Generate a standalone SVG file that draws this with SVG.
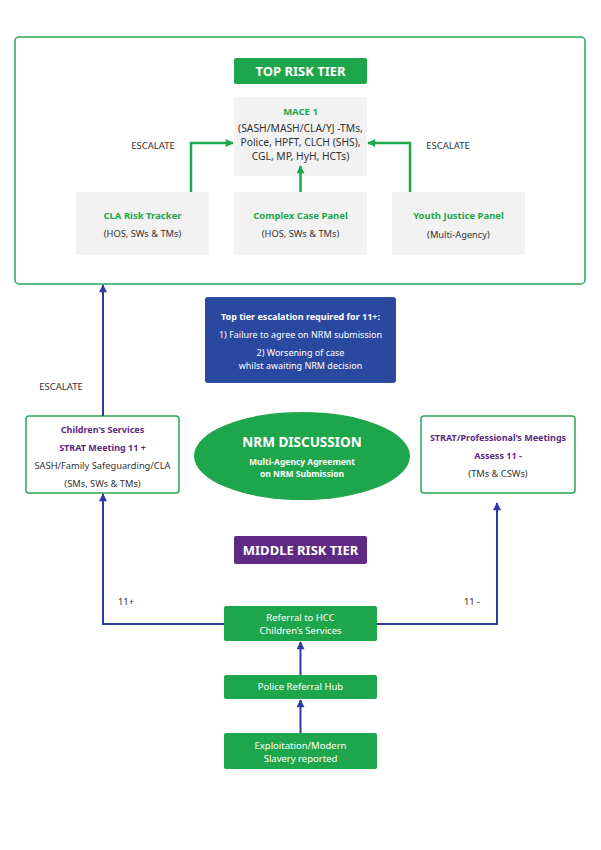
<svg xmlns="http://www.w3.org/2000/svg" width="601" height="850" viewBox="0 0 601 850">
<defs>
<marker id="ag" viewBox="0 0 10 10" refX="9" refY="5" markerWidth="10" markerHeight="8" orient="auto" markerUnits="userSpaceOnUse"><path d="M0,0 L10,5 L0,10 z" fill="#1ea64c"/></marker>
<marker id="ab" viewBox="0 0 10 10" refX="9" refY="5" markerWidth="10" markerHeight="8" orient="auto" markerUnits="userSpaceOnUse"><path d="M0,0 L10,5 L0,10 z" fill="#2b3c9c"/></marker>
<style>
text{font-family:"Noto Sans","Open Sans",sans-serif;text-anchor:middle;}
.t{font-size:9.3px;fill:#333;}
.g{font-size:9.5px;fill:#1ea64c;font-weight:bold;}
.p{font-size:9px;fill:#5a2a82;font-weight:bold;}
.w{font-size:9px;fill:#fff;}
.wb{font-weight:bold;}
.grey{fill:#f2f2f2;}
.green{fill:#1ea64c;}
.node{fill:#fff;stroke:#2aa757;stroke-width:1.5;}
.gl{stroke:#1ea64c;stroke-width:2.5;fill:none;}
.bl{stroke:#2b3c9c;stroke-width:2;fill:none;}
</style>
</defs>
<rect width="601" height="850" fill="#fff"/>
<g id="top-tier">
<rect x="15" y="37" width="570" height="247" rx="4" fill="#fff" stroke="#2aa757" stroke-width="1.5"/>
<rect x="234" y="58" width="133" height="26" rx="2" class="green"/>
<text x="300.5" y="76" class="w wb" style="font-size:13px">TOP RISK TIER</text>
</g>
<g id="mace">
<rect x="234" y="97" width="133" height="79" rx="2" class="grey"/>
<text x="300.5" y="115" class="g">MACE 1</text>
<text x="300.5" y="132" class="t" style="font-size:10.3px">(SASH/MASH/CLA/YJ -TMs,</text>
<text x="300.5" y="146" class="t" style="font-size:10.3px">Police, HPFT, CLCH (SHS),</text>
<text x="300.5" y="160" class="t" style="font-size:10.3px">CGL, MP, HyH, HCTs)</text>
</g>
<g id="cla">
<rect x="76" y="192" width="133" height="63" rx="2" class="grey"/>
<text x="142.5" y="219" class="g">CLA Risk Tracker</text>
<text x="142.5" y="237" class="t">(HOS, SWs &amp; TMs)</text>
</g>
<g id="complex">
<rect x="234" y="192" width="133" height="63" rx="2" class="grey"/>
<text x="300.5" y="219" class="g">Complex Case Panel</text>
<text x="300.5" y="237" class="t">(HOS, SWs &amp; TMs)</text>
</g>
<g id="youth">
<rect x="392" y="192" width="133" height="63" rx="2" class="grey"/>
<text x="458.5" y="219" class="g">Youth Justice Panel</text>
<text x="458.5" y="238" class="t">(Multi-Agency)</text>
</g>
<g id="escalation-note">
<rect x="205" y="297" width="191" height="86" rx="3" fill="#2b48a0"/>
<text x="300.5" y="320" class="w wb">Top tier escalation required for 11+:</text>
<text x="300.5" y="338" class="w">1) Failure to agree on NRM submission</text>
<text x="300.5" y="356" class="w">2) Worsening of case</text>
<text x="300.5" y="369" class="w">whilst awaiting NRM decision</text>
</g>
<g id="childrens">
<rect x="26" y="416" width="153" height="77" rx="3" class="node"/>
<text x="102.5" y="433" class="p">Children's Services</text>
<text x="102.5" y="451" class="p">STRAT Meeting 11 +</text>
<text x="102.5" y="469" class="t">SASH/Family Safeguarding/CLA</text>
<text x="102.5" y="487" class="t">(SMs, SWs &amp; TMs)</text>
</g>
<g id="nrm">
<ellipse cx="302" cy="456" rx="108" ry="44" class="green"/>
<text x="302" y="447" class="w wb" style="font-size:13.5px">NRM DISCUSSION</text>
<text x="302" y="465" class="w wb" style="font-size:8.5px">Multi-Agency Agreement</text>
<text x="302" y="477" class="w wb" style="font-size:8.5px">on NRM Submission</text>
</g>
<g id="strat">
<rect x="421" y="416" width="154" height="77" rx="3" class="node"/>
<text x="498" y="441" class="p">STRAT/Professional’s Meetings</text>
<text x="498" y="459" class="p">Assess 11 -</text>
<text x="498" y="477" class="t">(TMs &amp; CSWs)</text>
</g>
<g id="middle-tier">
<rect x="234" y="536" width="133" height="28" rx="2" fill="#5e2a84"/>
<text x="300.5" y="555" class="w wb" style="font-size:13px">MIDDLE RISK TIER</text>
</g>
<g id="referral">
<rect x="224" y="606" width="153" height="35" rx="2" class="green"/>
<text x="300.5" y="621" class="w" style="font-size:9.5px">Referral to HCC</text>
<text x="300.5" y="634" class="w" style="font-size:9.5px">Children’s Services</text>
</g>
<g id="police">
<rect x="224" y="675" width="153" height="24" rx="2" class="green"/>
<text x="300.5" y="690" class="w" style="font-size:9.5px">Police Referral Hub</text>
</g>
<g id="exploitation">
<rect x="224" y="733" width="153" height="36" rx="2" class="green"/>
<text x="300.5" y="749" class="w" style="font-size:9.5px">Exploitation/Modern</text>
<text x="300.5" y="762" class="w" style="font-size:9.5px">Slavery reported</text>
</g>
<g id="connectors">
<path d="M191,192 V143 H233" class="gl" marker-end="url(#ag)"/>
<path d="M410,192 V143 H368" class="gl" marker-end="url(#ag)"/>
<path d="M300.5,192 V166" class="gl" marker-end="url(#ag)"/>
<path d="M103,416 V285" class="bl" marker-end="url(#ab)"/>
<path d="M224,624 H103 V494" class="bl" marker-end="url(#ab)"/>
<path d="M377,624 H497 V503" class="bl" marker-end="url(#ab)"/>
<path d="M300.5,675 V642" class="bl" marker-end="url(#ab)"/>
<path d="M300.5,733 V700" class="bl" marker-end="url(#ab)"/>
<text x="153" y="149" class="t" style="font-size:9.5px">ESCALATE</text>
<text x="448" y="149" class="t" style="font-size:9.5px">ESCALATE</text>
<text x="61" y="390" class="t" style="font-size:9.5px">ESCALATE</text>
<text x="126" y="605" class="t">11+</text>
<text x="472" y="605" class="t">11 -</text>
</g>
</svg>
